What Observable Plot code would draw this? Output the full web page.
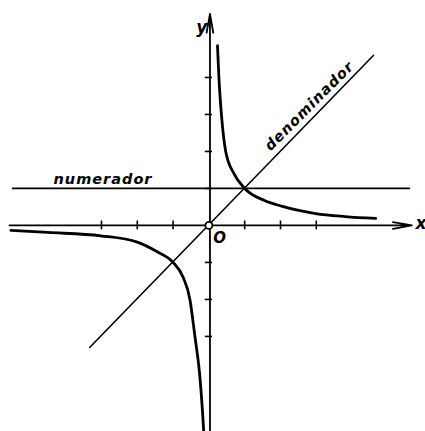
<!DOCTYPE html>
<html>
<head>
<meta charset="utf-8">
<script src="https://cdn.jsdelivr.net/npm/d3@7"></script>
<script src="https://cdn.jsdelivr.net/npm/@observablehq/plot@0.6"></script>
<style>
  html, body { margin: 0; padding: 0; background: #fff; }
</style>
</head>
<body>
<div id="chart"></div>
<script>
// Positive branch of the hyperbola
const posX = [0.24, 0.28, 0.35, 0.47, 0.7, 1, 1.54, 2.03, 2.98, 3.8, 4.66];
const posY = [4.86, 4.0, 3.0, 2.0, 1.4, 1.0, 0.68, 0.52, 0.32, 0.24, 0.19];
// Negative branch of the hyperbola
const negX = [-5.53, -4.5, -3.02, -2.0, -1.43, -1.0, -0.72, -0.53, -0.39, -0.26, -0.18, -0.13];
const negY = [-0.135, -0.19, -0.28, -0.45, -0.72, -1.0, -1.4, -2.0, -3.0, -4.0, -5.0, -5.8];
// "numerador" line (y = 1) and "denominador" line (y = x)
const numX = [-5.48, 5.6];
const numY = [1, 1];
const denX = [-3.33, 4.6];
const denY = [-3.3, 4.6];
// Axis ticks
const xTicks = [-3, -2, -1, 1, 2, 3];
const yTicks = [-3, -2, -1, 1, 2, 3, 4];
// Labels
const labels = ["numerador", "denominador", "O", "x", "y"];

const pos = posX.map((x, i) => ({x, y: posY[i]}));
const neg = negX.map((x, i) => ({x, y: negY[i]}));
const num = numX.map((x, i) => ({x, y: numY[i]}));
const den = denX.map((x, i) => ({x, y: denY[i]}));

const font = "DejaVu Sans";

const chart = Plot.plot({
  width: 425,
  height: 431,
  margin: 0,
  x: {domain: [-5.82, 6.05], axis: null},
  y: {domain: [-5.57, 6.08], axis: null},
  style: {fontFamily: font, background: "#fff", color: "#000"},
  marks: [
    // axes
    Plot.arrow([{x1: -5.57, x2: 5.67, y: 0}], {x1: "x1", x2: "x2", y1: "y", y2: "y", stroke: "#000", strokeWidth: 1.8, headLength: 16, headAngle: 20}),
    Plot.arrow([{x: 0.03, y1: -5.7, y2: 5.72}], {x1: "x", x2: "x", y1: "y1", y2: "y2", stroke: "#000", strokeWidth: 1.8, headLength: 16, headAngle: 20}),
    Plot.ruleX(xTicks, {x: d => d, y1: -0.12, y2: 0.12, stroke: "#000", strokeWidth: 1.6}),
    Plot.ruleY(yTicks, {y: d => d, x1: -0.1, x2: 0.1, stroke: "#000", strokeWidth: 1.6}),
    // straight lines
    Plot.line(num, {x: "x", y: "y", stroke: "#000", strokeWidth: 1.8}),
    Plot.line(den, {x: "x", y: "y", stroke: "#000", strokeWidth: 1.6}),
    // hyperbola
    Plot.line(pos, {x: "x", y: "y", stroke: "#000", strokeWidth: 2.8, curve: "monotone-x"}),
    Plot.line(neg, {x: "x", y: "y", stroke: "#000", strokeWidth: 2.8, curve: "monotone-x", clip: true}),
    // origin circle
    Plot.dot([{x: 0, y: 0}], {x: "x", y: "y", r: 3.5, fill: "#fff", stroke: "#000", strokeWidth: 1.8}),
    // labels
    Plot.text([labels[0]], {x: -4.34, y: 1.12, text: d => d, textAnchor: "start", lineAnchor: "bottom", fontSize: 14.5, fontStyle: "italic", fontWeight: "bold", fill: "#000"}),
    Plot.text([labels[1]], {x: 1.72, y: 2.0, text: d => d, textAnchor: "start", lineAnchor: "bottom", rotate: -45, fontSize: 14.5, fontStyle: "italic", fontWeight: "bold", fill: "#000"}),
    Plot.text([labels[2]], {x: 0.3, y: -0.34, text: d => d, textAnchor: "middle", lineAnchor: "middle", fontSize: 15, fontStyle: "italic", fontWeight: "bold", fill: "#000"}),
    Plot.text([labels[3]], {x: 5.77, y: 0.05, text: d => d, textAnchor: "start", lineAnchor: "middle", fontSize: 17, fontStyle: "italic", fontWeight: "bold", fill: "#000"}),
    Plot.text([labels[4]], {x: -0.2, y: 5.35, text: d => d, textAnchor: "middle", lineAnchor: "middle", fontSize: 17, fontStyle: "italic", fontWeight: "bold", fill: "#000"})
  ]
});

d3.select(chart).selectAll("text").filter(function () {
  return this.textContent === labels[0] || this.textContent === labels[1];
}).attr("letter-spacing", "1px");

document.getElementById("chart").appendChild(chart);
</script>
</body>
</html>
